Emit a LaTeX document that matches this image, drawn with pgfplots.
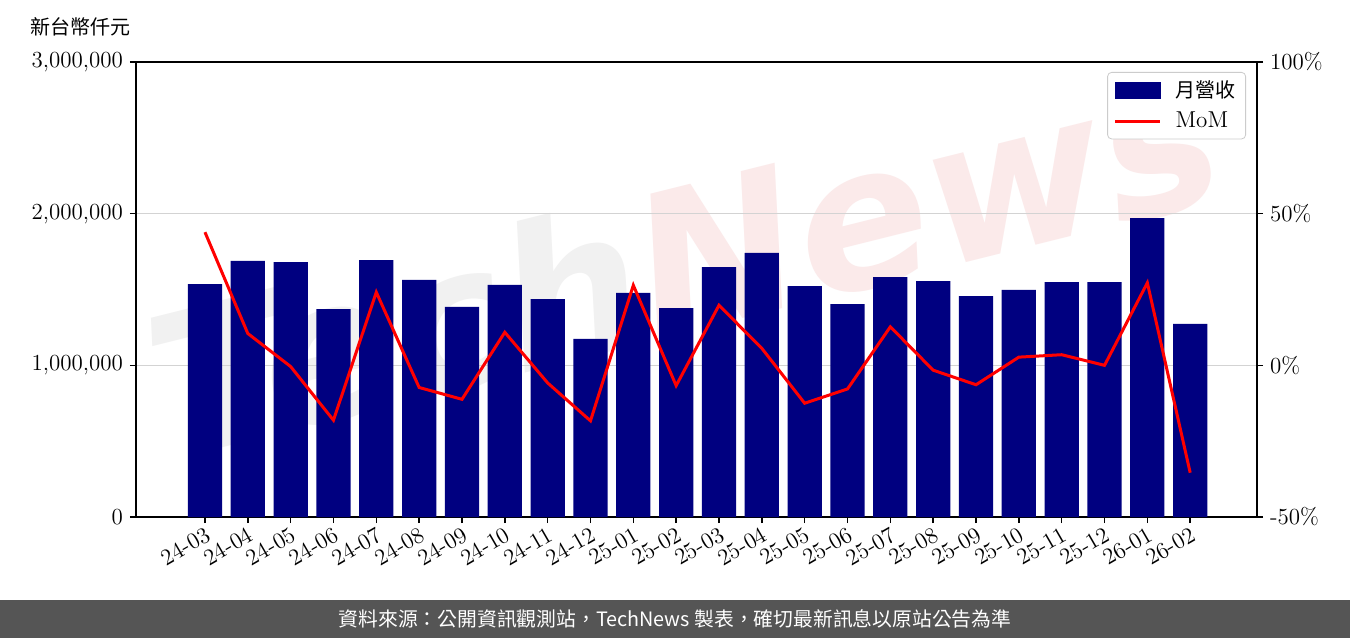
\documentclass[border=0pt]{standalone}
\usepackage{pgfplots}
\pgfplotsset{compat=1.18}
\usepackage{fontspec}
\newfontfamily\cjk{Noto Sans CJK TC}
\newfontfamily\wm{DejaVu Sans}
\definecolor{barnavy}{RGB}{0,0,128}
\definecolor{gridgray}{RGB}{211,211,211}
\definecolor{footgray}{RGB}{85,85,85}
\definecolor{wmgray}{RGB}{241,241,241}
\definecolor{wmpink}{RGB}{251,234,234}
\begin{document}
\begin{tikzpicture}[x=1pt,y=1pt]
\path[fill=white] (0,0) rectangle (675,319);
% watermark
\node[rotate=14, inner sep=0pt] at (342,190) {\fontsize{98}{110}\wm\bfseries\itshape\textcolor{wmgray}{Tech}\textcolor{wmpink}{News}};
\begin{axis}[
  at={(68pt,60.5pt)}, anchor=south west,
  scale only axis, width=560.5pt, height=227.5pt,
  xmin=-1.61, xmax=24.56, ymin=0, ymax=3000000,
  axis line style={line width=1pt},
  tick style={line width=0.8pt, black},
  tick align=outside, major tick length=3pt,
  xtick={0,...,23},
  xticklabels={24-03,24-04,24-05,24-06,24-07,24-08,24-09,24-10,24-11,24-12,25-01,25-02,25-03,25-04,25-05,25-06,25-07,25-08,25-09,25-10,25-11,25-12,26-01,26-02},
  xticklabel style={rotate=30, anchor=north east, inner sep=1pt, font=\fontsize{11.5}{13}\selectfont},
  ytick={0,1000000,2000000,3000000},
  yticklabels={0,{1,000,000},{2,000,000},{3,000,000}},
  scaled y ticks=false,
  yticklabel style={font=\fontsize{11.5}{13}\selectfont},
  axis y line*=left, axis x line*=bottom,
  ymajorgrids, grid style={gridgray, line width=0.6pt},
  x axis line style={-}, y axis line style={-},
]
\addplot[ybar, bar width=0.8, bar shift=0pt, fill=barnavy, draw=none] coordinates {
(0,1536000) (1,1688000) (2,1681000) (3,1371000) (4,1694000) (5,1563000)
(6,1385000) (7,1530000) (8,1437000) (9,1174000) (10,1477000) (11,1378000)
(12,1648000) (13,1741000) (14,1523000) (15,1404000) (16,1582000) (17,1556000)
(18,1457000) (19,1497000) (20,1549000) (21,1549000) (22,1971000) (23,1273000)};
\draw[line width=1pt] (axis cs:-1.61,3000000) -- (axis cs:24.56,3000000);
\end{axis}
\begin{axis}[
  at={(68pt,60.5pt)}, anchor=south west,
  scale only axis, width=560.5pt, height=227.5pt,
  xmin=-1.61, xmax=24.56, ymin=-50, ymax=100,
  axis x line=none, axis y line*=right,
  y axis line style={-, line width=1pt},
  tick style={line width=0.8pt, black},
  tick align=outside, major tick length=3pt,
  ytick={-50,0,50,100},
  yticklabels={-50\%,0\%,50\%,100\%},
  yticklabel style={font=\fontsize{11.5}{13}\selectfont},
  legend style={at={(1,1)}, anchor=north east, xshift=-5.5pt, yshift=-5pt,
    draw={rgb,255:red,204;green,204;blue,204}, rounded corners=2pt, fill=white,
    font=\fontsize{11.5}{13}\selectfont, row sep=2pt, inner xsep=3pt, inner ysep=2pt},
  legend cell align=left,
]
\addlegendimage{legend image code/.code={\fill[barnavy, sharp corners] (0pt,-4pt) rectangle (22.5pt,4pt);}}
\addlegendentry{\hspace{5pt}{\cjk\fontsize{10}{12}\selectfont 月營收}}
\addplot[red, line width=1.5pt, legend image code/.code={\draw[red, line width=1.5pt, sharp corners] (0pt,0pt) -- (22.5pt,0pt);}] coordinates {
(0,43.9) (1,10.5) (2,-0.4) (3,-18.1) (4,24.1) (5,-7.3)
(6,-11.2) (7,10.9) (8,-5.8) (9,-18.3) (10,26.4) (11,-6.7)
(12,19.8) (13,5.6) (14,-12.5) (15,-7.8) (16,12.7) (17,-1.6)
(18,-6.4) (19,2.7) (20,3.5) (21,0) (22,27.2) (23,-35.4)};
\addlegendentry{\hspace{5pt}MoM}
\end{axis}
\node[anchor=west, inner sep=0pt] at (15,305.5) {\cjk\fontsize{10}{12}\selectfont 新台幣仟元};
\fill[footgray] (0,0) rectangle (675,19);
\node[text=white, inner sep=0pt] at (337.5,9.5) {\cjk\fontsize{9.9}{11}\selectfont 資料來源：公開資訊觀測站，TechNews 製表，確切最新訊息以原站公告為準};
\end{tikzpicture}
\end{document}
